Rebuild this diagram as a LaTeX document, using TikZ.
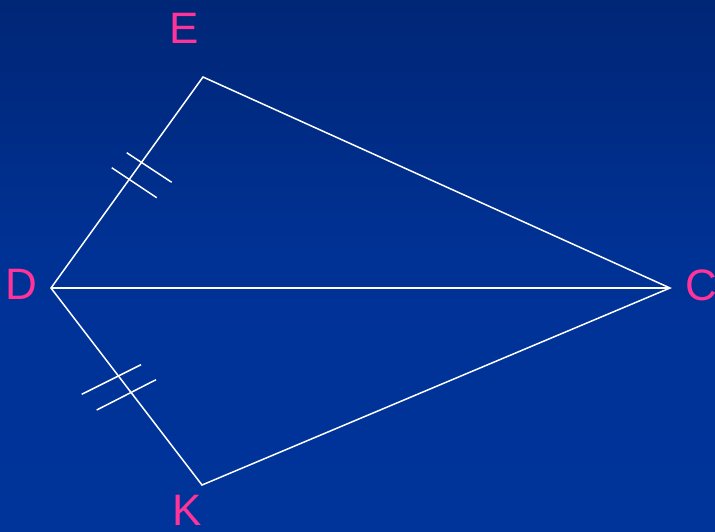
\documentclass[tikz,border=0pt]{standalone}
\usepackage{fontspec}
\setmainfont{Liberation Sans}
\definecolor{bgtop}{RGB}{0,38,118}
\definecolor{bgmid}{RGB}{0,50,150}
\definecolor{bgbot}{RGB}{0,52,154}
\definecolor{lbl}{RGB}{255,51,153}
\begin{document}
\begin{tikzpicture}[x=1pt,y=-1pt,
  edge/.style={draw=white,line width=1.5pt},
  tick/.style={draw=white,line width=1.5pt},
  lab/.style={text=lbl,font=\fontsize{44}{44}\selectfont,inner sep=0pt,anchor=center}]
\useasboundingbox (0,0) rectangle (715,531);
\shade[top color=bgtop,bottom color=bgbot,middle color=bgmid,shading angle=0] (0,0) rectangle (715,531);
\coordinate (E) at (203,77);
\coordinate (D) at (51,288);
\coordinate (C) at (670,288);
\coordinate (K) at (202,485);
\draw[edge,line join=miter] (D) -- (E) -- (C) -- (K) -- cycle;
\draw[edge] (D) -- (C);
% ticks on DE
\draw[tick] (126.7,152.7) -- (171.7,182.3);
\draw[tick] (111.7,167.7) -- (156.7,197.7);
% ticks on DK
\draw[tick] (81.7,394.3) -- (141,364.7);
\draw[tick] (96.7,410) -- (156,379.7);
\node[lab] (lE) at (184,28) {E};
\node[lab] (lD) at (21,284) {D};
\node[lab] (lC) at (701,285) {C};
\node[lab] (lK) at (187,510) {K};
\end{tikzpicture}
\end{document}
